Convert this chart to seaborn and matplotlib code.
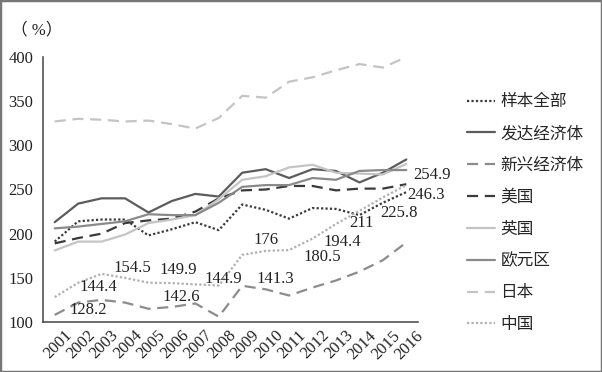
import matplotlib
matplotlib.use("Agg")
import matplotlib.pyplot as plt
import matplotlib.font_manager as fm
import matplotlib.transforms as mtransforms
import numpy as np
import seaborn as sns
from matplotlib.patches import Rectangle

# --- DATA ---
years = [str(y) for y in range(2001, 2017)]
all_sample = [191, 214, 216, 216, 198, 205, 213, 204, 233, 227, 217, 229, 228, 221, 235, 247]
advanced = [213, 234, 240, 240, 224, 237, 245, 242, 269, 273, 263, 273, 271, 258, 269, 284]
emerging = [108, 122, 125, 122, 115, 117, 121, 106, 141, 137, 130, 139, 147, 157, 170, 190]
usa = [189, 195, 200, 212, 215, 217, 225, 240, 249, 250, 254, 254, 249, 251, 251, 256]
uk = [181, 191, 191, 199, 212, 216, 221, 239, 261, 265, 275, 278, 269, 268, 267, 279]
euro = [206, 208, 211, 214, 222, 221, 221, 235, 253, 255, 255, 263, 261, 271, 272, 272]
japan = [327, 330, 329, 327, 328, 324, 319, 331, 356, 354, 372, 377, 385, 392, 388, 400]
china = [128.2, 144.4, 154.5, 149.9, 144.5, 144.0, 142.6, 141.3, 176, 180.5, 181.4, 194.4, 211, 225.8, 241, 255]

names = ["样本全部", "发达经济体", "新兴经济体", "美国", "英国", "欧元区", "日本", "中国"]

# value labels as printed on the chart
label_text = ["128.2", "144.4", "154.5", "149.9", "142.6", "144.9", "141.3",
              "176", "180.5", "194.4", "211", "225.8", "246.3", "254.9"]
label_x = [1.45, 1.88, 3.33, 5.29, 5.38, 7.21, 9.43, 9.0, 11.4, 12.25, 13.1, 14.7, 15.86, 16.08]
label_y = [113.6, 139.6, 161, 158.9, 128.6, 149, 149, 192.8, 173.6, 190.9, 211.7, 223, 243.8, 266.4]

# --- STYLES ---
series = [all_sample, advanced, emerging, usa, uk, euro, japan, china]
colors = ["#3a3a3a", "#5c5c5c", "#8c8c8c", "#3a3a3a", "#c4c4c4", "#8a8a8a", "#c4c4c4", "#b0b0b0"]
styles = [(0, (1, 1)), "-", (0, (5, 3)), (0, (5, 3)), "-", "-", (0, (5, 3)), (0, (1, 1))]

sns.set_style("white")

# pick a Times-like serif that is actually installed
installed = {f.name for f in fm.fontManager.ttflist}
serif = next((n for n in ["Liberation Serif", "Times New Roman", "DejaVu Serif"] if n in installed), "serif")
plt.rcParams["font.family"] = [serif, "Noto Sans CJK SC"]

fig = plt.figure(figsize=(6.02, 3.72), dpi=100)
ax = fig.add_axes([0.0714, 0.1344, 0.6230, 0.7124])

x = np.arange(len(years))
for vals, name, c, ls in zip(series, names, colors, styles):
    sns.lineplot(x=x, y=vals, ax=ax, color=c, linestyle=ls, linewidth=1.6, label=name)

for t, lx, ly in zip(label_text, label_x, label_y):
    ax.text(lx, ly, t, fontsize=12, color="#222222", ha="center", va="center")

ax.set_xlim(-0.5, 15.5)
ax.set_ylim(100, 400)
ax.set_yticks(np.arange(100, 401, 50))
ax.set_xticks(np.arange(0.5, 16, 1))
ax.set_xticklabels([])
ax.set_xticks(x, minor=True)
ax.set_xticklabels(years, minor=True, rotation=45, ha="center", fontsize=12)
ax.tick_params(axis="x", which="minor", length=0, pad=4)
ax.tick_params(axis="x", which="major", length=5, direction="out", width=1)
ax.tick_params(axis="y", length=4, direction="out", width=1, pad=3, labelsize=12)
ax.tick_params(axis="both", which="both", colors="#444444", labelcolor="#222222")

# nudge the rotated year labels a little to the right, like the original
shift = mtransforms.ScaledTranslation(3 / 100, 0, fig.dpi_scale_trans)
for lab in ax.get_xticklabels(minor=True):
    lab.set_transform(lab.get_transform() + shift)

for s in ["top", "right"]:
    ax.spines[s].set_visible(False)
for s in ["left", "bottom"]:
    ax.spines[s].set_color("#444444")
    ax.spines[s].set_linewidth(1.1)

ax.set_xlabel("")
ax.set_ylabel("")

fig.text(0.018, 0.919, "（ %）", fontsize=12, color="#222222", ha="left", va="center")

ax.legend(loc="upper left", bbox_to_anchor=(0.776, 0.746), bbox_transform=fig.transFigure,
          frameon=False, fontsize=12, handlelength=1.7, handletextpad=0.3,
          labelspacing=0.95, borderpad=0, borderaxespad=0)

fig.add_artist(Rectangle((0, 0), 1, 1, transform=fig.transFigure, fill=False,
                         edgecolor="#777777", linewidth=2.5))

fig.savefig("out.png", dpi=100, facecolor="white")
